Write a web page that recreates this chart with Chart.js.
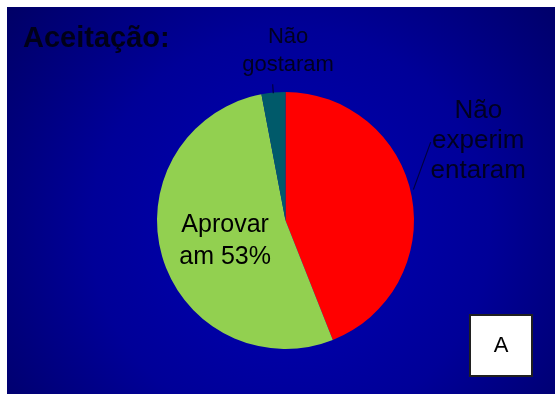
<!DOCTYPE html>
<html>
<head>
<meta charset="utf-8">
<script src="https://cdn.jsdelivr.net/npm/chart.js@4"></script>
<style>
  html, body { margin: 0; padding: 0; background: #fff; }
  #wrap { width: 555px; height: 394px; position: relative; }
</style>
</head>
<body>
<div id="wrap"><canvas id="pizza" width="555" height="394"></canvas></div>
<script>
// dados do gráfico
const categorias = ["Não experimentaram", "Aprovaram", "Não gostaram"];
const valores = [44, 53, 3];
const cores = ["#ff0000", "#92d050", "#005a6a"];
// rótulos (linhas) de cada fatia
const rotulos = [["Não", "experim", "entaram"], ["Aprovar", "am 53%"], ["Não", "gostaram"]];

const FONTE = "'Liberation Sans', Arial, sans-serif";

// fundo azul com degradê + título + caixa "A"
const fundoPlugin = {
  id: "fundo",
  beforeDraw(chart) {
    const ctx = chart.ctx;
    const w = chart.width, h = chart.height;
    ctx.save();
    ctx.fillStyle = "#ffffff";
    ctx.fillRect(0, 0, w, h);
    const g = ctx.createRadialGradient(290, 230, 10, 290, 230, 430);
    g.addColorStop(0, "#0000b4");
    g.addColorStop(0.45, "#000098");
    g.addColorStop(1, "#000050");
    ctx.fillStyle = g;
    ctx.fillRect(7, 7, w - 7, h - 7);

    ctx.fillStyle = "#000018";
    ctx.font = "bold 29px " + FONTE;
    ctx.textBaseline = "middle";
    ctx.textAlign = "left";
    ctx.fillText("Aceitação:", 23, 39);
    ctx.restore();
  },
  afterDraw(chart) {
    const ctx = chart.ctx;
    const arcs = chart.getDatasetMeta(0).data;
    const a0 = arcs[0];
    const cx = a0.x, cy = a0.y, r = a0.outerRadius;
    ctx.save();
    ctx.textAlign = "center";
    ctx.textBaseline = "middle";

    // fatia verde: rótulo dentro
    ctx.fillStyle = "#000000";
    ctx.font = "25px " + FONTE;
    const px = cx - r * 0.47, py = cy + r * 0.16;
    rotulos[1].forEach((t, i) => ctx.fillText(t, px, py + (i - 0.5) * 32));

    // fatia vermelha: rótulo à direita
    ctx.fillStyle = "#000020";
    ctx.font = "26px " + FONTE;
    const rx = cx + r * 1.5, ry = cy - r * 0.62;
    rotulos[0].forEach((t, i) => ctx.fillText(t, rx, ry + (i - 1) * 30));

    // fatia azul-esverdeada: rótulo acima
    ctx.font = "22px " + FONTE;
    const tx = cx + r * 0.02, ty = cy - r * 1.316;
    rotulos[2].forEach((t, i) => ctx.fillText(t, tx, ty + (i - 0.5) * 28));

    // linhas de chamada
    ctx.strokeStyle = "#000040";
    ctx.lineWidth = 1.2;
    ctx.beginPath();
    ctx.moveTo(cx - r * 0.1, cy - r * 1.06);
    ctx.lineTo(cx - r * 0.095, cy - r * 0.99);
    ctx.moveTo(cx + r * 1.13, cy - r * 0.61);
    ctx.lineTo(cx + r * 0.995, cy - r * 0.24);
    ctx.stroke();

    // caixa "A"
    ctx.fillStyle = "#ffffff";
    ctx.fillRect(470, 315, 62, 61);
    ctx.strokeStyle = "#202020";
    ctx.lineWidth = 2;
    ctx.strokeRect(470, 315, 62, 61);
    ctx.fillStyle = "#000000";
    ctx.font = "22px " + FONTE;
    ctx.fillText("A", 501, 346);
    ctx.restore();
  }
};

new Chart(document.getElementById("pizza"), {
  type: "pie",
  data: {
    labels: categorias,
    datasets: [{
      data: valores,
      backgroundColor: cores,
      borderWidth: 0
    }]
  },
  options: {
    responsive: false,
    animation: false,
    layout: { padding: { left: 157, right: 141, top: 92, bottom: 45 } },
    plugins: {
      legend: { display: false },
      tooltip: { enabled: false },
      title: { display: false }
    }
  },
  plugins: [fundoPlugin]
});
</script>
</body>
</html>
